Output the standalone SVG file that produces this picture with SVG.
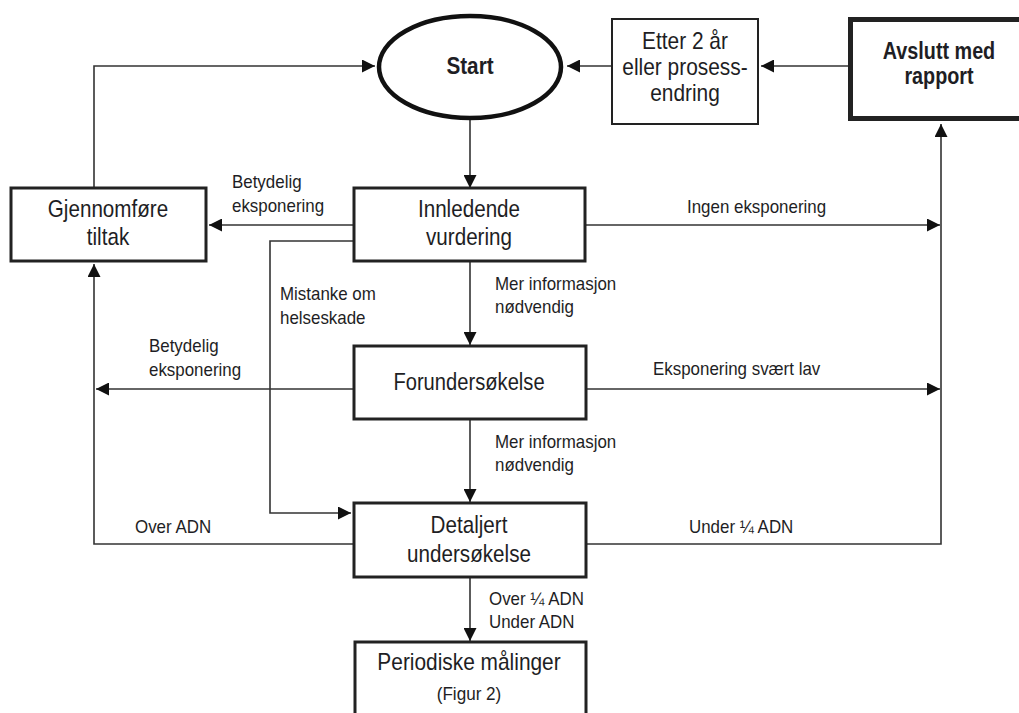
<svg xmlns="http://www.w3.org/2000/svg" width="1019" height="713" viewBox="0 0 1019 713">
<defs>
<style>
.bg{fill:#fff}
.box{fill:#fff;stroke:#222;stroke-width:3}
.thin{stroke-width:2}
.thick{stroke-width:5}
.con{fill:none;stroke:#333;stroke-width:1.6}
.t{font-family:"Liberation Sans",Arial,sans-serif;font-size:24px;fill:#1e1e24;text-anchor:middle}
.b{font-weight:bold;font-size:23px}
.s{font-size:19px}
.l{font-family:"Liberation Sans",Arial,sans-serif;font-size:18px;fill:#1e1e24}
</style>
<marker id="ah" markerUnits="userSpaceOnUse" markerWidth="14" markerHeight="13" refX="13" refY="6.5" orient="auto">
<path d="M0,0 L13,6.5 L0,13 z" fill="#111"/>
</marker>
</defs>
<rect class="bg" x="0" y="0" width="1019" height="713"/>
<g id="connectors">
<path class="con" d="M470,119 V188" marker-end="url(#ah)"/>
<path class="con" d="M612,66 H567" marker-end="url(#ah)"/>
<path class="con" d="M848,66 H761" marker-end="url(#ah)"/>
<path class="con" d="M94,188 V66 H375" marker-end="url(#ah)"/>
<path class="con" d="M354,225 H209" marker-end="url(#ah)"/>
<path class="con" d="M585,225 H940" marker-end="url(#ah)"/>
<path class="con" d="M354,241 H270 V513 H351" marker-end="url(#ah)"/>
<path class="con" d="M470,261 V345" marker-end="url(#ah)"/>
<path class="con" d="M354,389 H96" marker-end="url(#ah)"/>
<path class="con" d="M586,389 H940" marker-end="url(#ah)"/>
<path class="con" d="M470,419 V502" marker-end="url(#ah)"/>
<path class="con" d="M354,544 H94 V264" marker-end="url(#ah)"/>
<path class="con" d="M586,544 H941 V124" marker-end="url(#ah)"/>
<path class="con" d="M470,577 V641" marker-end="url(#ah)"/>
<text class="l" transform="translate(232,188) scale(0.94,1)">Betydelig</text>
<text class="l" transform="translate(232,212) scale(0.94,1)">eksponering</text>
<text class="l" transform="translate(687,213) scale(0.94,1)">Ingen eksponering</text>
<text class="l" transform="translate(280,300) scale(0.94,1)">Mistanke om</text>
<text class="l" transform="translate(280,324) scale(0.94,1)">helseskade</text>
<text class="l" transform="translate(495,290) scale(0.94,1)">Mer informasjon</text>
<text class="l" transform="translate(495,313) scale(0.94,1)">nødvendig</text>
<text class="l" transform="translate(149,352) scale(0.94,1)">Betydelig</text>
<text class="l" transform="translate(149,376) scale(0.94,1)">eksponering</text>
<text class="l" transform="translate(653,375) scale(0.94,1)">Eksponering svært lav</text>
<text class="l" transform="translate(495,448) scale(0.94,1)">Mer informasjon</text>
<text class="l" transform="translate(495,471) scale(0.94,1)">nødvendig</text>
<text class="l" transform="translate(135,533) scale(0.94,1)">Over ADN</text>
<text class="l" transform="translate(689,533) scale(0.94,1)">Under ¼ ADN</text>
<text class="l" transform="translate(489,605) scale(0.94,1)">Over ¼ ADN</text>
<text class="l" transform="translate(489,628) scale(0.94,1)">Under ADN</text>
</g>
<g id="start">
<ellipse cx="470" cy="67" rx="91" ry="51" fill="#fff" stroke="#111" stroke-width="4.5"/>
<text class="t b" transform="translate(470,74) scale(0.9,1)">Start</text>
</g>
<g id="etter">
<rect class="box thin" x="612" y="19" width="146" height="105"/>
<text class="t" transform="translate(685,49) scale(0.87,1)">Etter 2 år</text>
<text class="t" transform="translate(685,75) scale(0.87,1)">eller prosess-</text>
<text class="t" transform="translate(685,101) scale(0.87,1)">endring</text>
</g>
<g id="avslutt">
<rect class="box thick" x="850.5" y="19.5" width="180" height="99" stroke="#111"/>
<text class="t b" transform="translate(939,59) scale(0.86,1)">Avslutt med</text>
<text class="t b" transform="translate(939,84) scale(0.86,1)">rapport</text>
</g>
<g id="gjennomfore">
<rect class="box" x="11" y="188" width="195" height="73"/>
<text class="t" transform="translate(108,217) scale(0.86,1)">Gjennomføre</text>
<text class="t" transform="translate(108,245) scale(0.86,1)">tiltak</text>
</g>
<g id="innledende">
<rect class="box" x="354" y="188" width="231" height="73"/>
<text class="t" transform="translate(469,217) scale(0.86,1)">Innledende</text>
<text class="t" transform="translate(469,245) scale(0.86,1)">vurdering</text>
</g>
<g id="forundersokelse">
<rect class="box" x="354" y="346" width="232" height="73"/>
<text class="t" transform="translate(469,390) scale(0.84,1)">Forundersøkelse</text>
</g>
<g id="detaljert">
<rect class="box" x="354" y="503" width="232" height="74"/>
<text class="t" transform="translate(469,533) scale(0.86,1)">Detaljert</text>
<text class="t" transform="translate(469,562) scale(0.86,1)">undersøkelse</text>
</g>
<g id="periodiske">
<rect class="box" x="355" y="642" width="231" height="90"/>
<text class="t" transform="translate(469,670) scale(0.87,1)">Periodiske målinger</text>
<text class="t s" transform="translate(469,700) scale(0.9,1)">(Figur 2)</text>
</g>
</svg>
